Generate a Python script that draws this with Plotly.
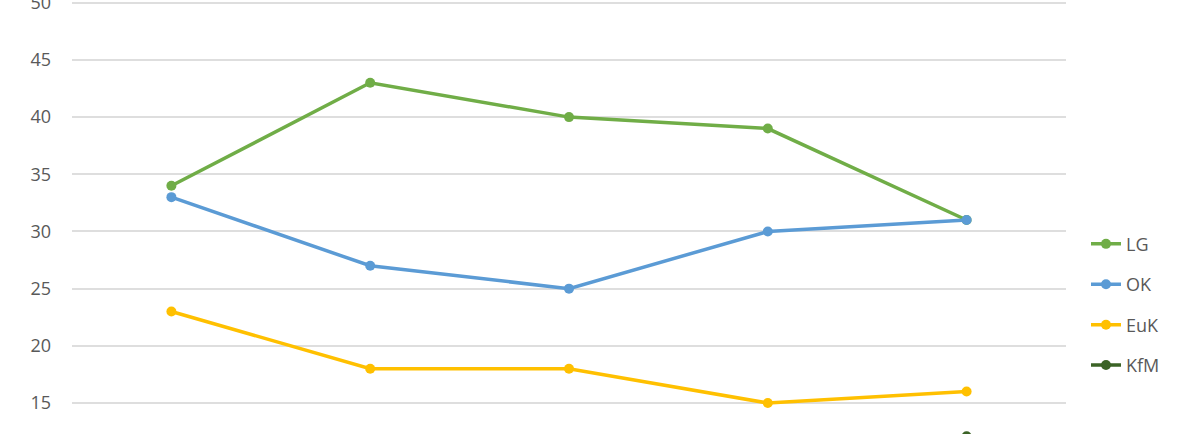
import plotly.graph_objects as go

# values (x labels are cut off in the picture)
periods = ["1", "2", "3", "4", "5"]
lg = [34, 43, 40, 39, 31]
ok = [33, 27, 25, 30, 31]
euk = [23, 18, 18, 15, 16]
kfm = [8, 9, 10, 11, 12.1]  # mostly below the visible area

series = [
    ("LG", lg, "#70ad47"),
    ("OK", ok, "#5b9bd5"),
    ("EuK", euk, "#ffc000"),
    ("KfM", kfm, "#3b6326"),
]

fig = go.Figure()
for name, vals, color in series:
    fig.add_trace(go.Scatter(
        x=periods, y=vals, name=name, legendgroup=name,
        mode="lines+markers",
        line=dict(color=color, width=3.5),
        marker=dict(color=color, size=10),
        cliponaxis=True,
    ))

fig.update_layout(
    width=1200, height=434,
    margin=dict(l=72, r=134, t=0, b=0),
    paper_bgcolor="white", plot_bgcolor="white",
    font=dict(family="Open Sans, Noto Sans, sans-serif", size=18, color="#595959"),
    showlegend=True,
    legend=dict(
        xref="container", yref="container",
        x=0.905, y=0.298, xanchor="left", yanchor="middle",
        tracegroupgap=14, font=dict(size=18, color="#595959"),
        bgcolor="rgba(0,0,0,0)",
    ),
)
fig.update_xaxes(
    type="category", range=[-0.5, 4.5], automargin=False,
    showgrid=False, showline=False, zeroline=False, showticklabels=False,
)
fig.update_yaxes(
    range=[12.29, 50.24], dtick=5, tick0=0, automargin=False,
    showgrid=True, gridcolor="#dedede", gridwidth=1.5,
    zeroline=False, showline=False, ticklabeloverflow="allow",
    ticks="", ticklabelstandoff=20,
)

# drop the browser's default page margin so the chart sits at the corner
fig.write_html(
    "out.html",
    config={"displayModeBar": False},
    post_script="document.body.style.margin='0';",
)
